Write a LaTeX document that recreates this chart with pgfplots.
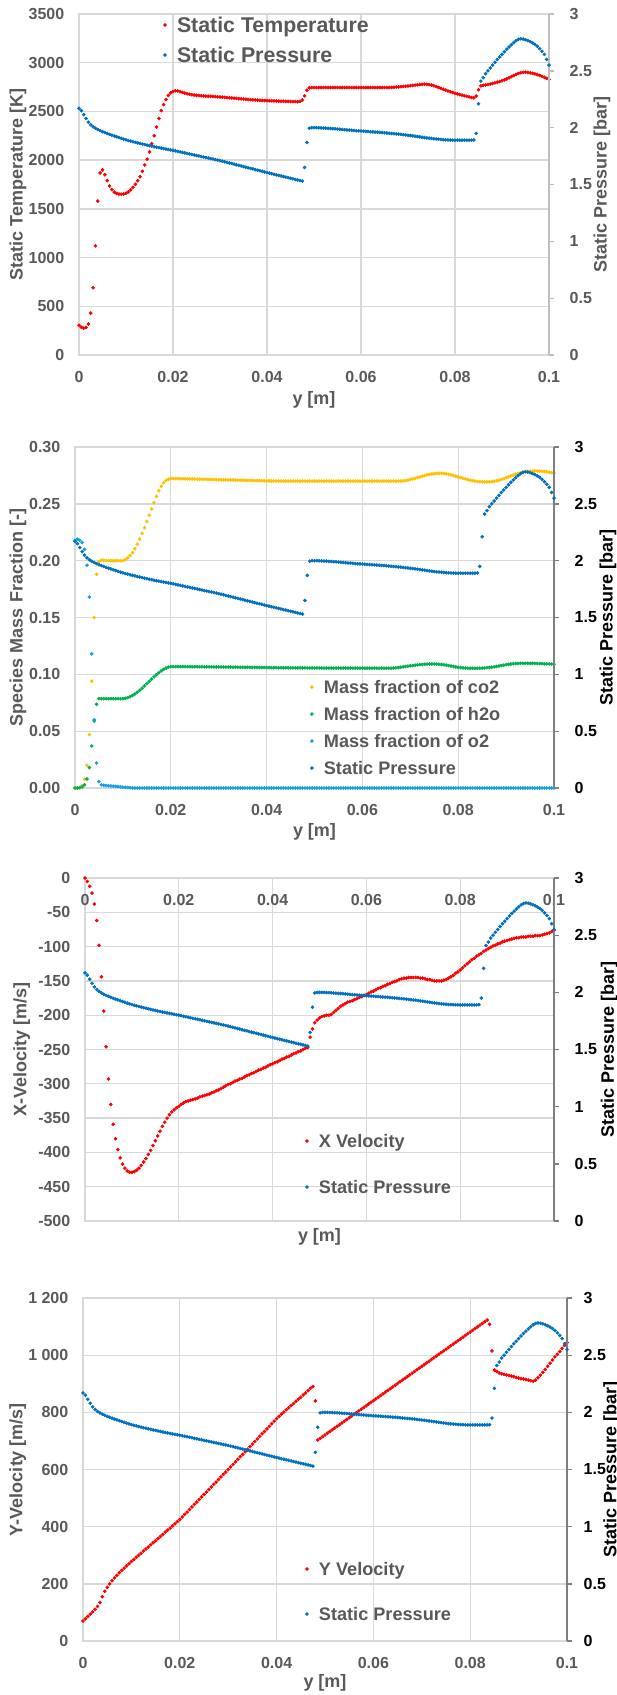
\documentclass[border=0pt]{standalone}
\usepackage{fontspec}
\setmainfont{Liberation Sans}
\usepackage{pgfplots}
\usepackage{pgfplotstable}
\pgfplotsset{compat=1.18}

\definecolor{txtgray}{HTML}{595959}
\definecolor{gridgray}{HTML}{D9D9D9}
\definecolor{axlight}{HTML}{BFBFBF}
\definecolor{axdark}{HTML}{7F7F7F}
\definecolor{tred}{HTML}{FF0000}
\definecolor{pblue}{HTML}{0070C0}
\definecolor{co2col}{HTML}{FFC000}
\definecolor{h2ocol}{HTML}{00B050}
\definecolor{o2col}{HTML}{14A0E1}

\newcommand{\tickfont}{\bfseries\fontsize{12}{14}\selectfont}
\newcommand{\titlefont}{\bfseries\fontsize{13.5}{16}\selectfont}
\newcommand{\legfont}{\bfseries\fontsize{13.6}{16}\selectfont}
\newcommand{\bigleg}{\bfseries\fontsize{16}{19}\selectfont}

% profiles along y: temperature [K], pressure [bar], mass fractions, velocities [m/s]
\pgfplotstableread{
y T P co2 h2o o2 u v
0.0000 305 2.170 0 0 0.218 0 70
0.0005 285 2.150 0 0 0.219 -5 78
0.0010 276 2.115 0.0005 0.0003 0.218 -12 86
0.0015 282 2.080 0.002 0.001 0.216 -22 94
0.0020 318 2.048 0.0076 0.0028 0.210 -38 102
0.0025 430 2.025 0.020 0.008 0.196 -62 111
0.0030 690 2.008 0.047 0.018 0.168 -98 121
0.0035 1120 1.995 0.094 0.037 0.118 -144 135
0.0040 1580 1.984 0.150 0.059 0.060 -194 155
0.0045 1868 1.974 0.188 0.0736 0.022 -246 174
0.0050 1900 1.965 0.199 0.0786 0.0056 -293 188
0.0055 1850 1.957 0.2005 0.0786 0.0028 -330 200
0.0060 1790 1.949 0.2003 0.0786 0.0024 -359 211
0.0065 1735 1.941 0.2001 0.0786 0.0022 -380 221
0.0070 1697 1.934 0.2000 0.0786 0.0020 -396 230
0.0075 1672 1.927 0.2000 0.0786 0.0018 -408 239
0.0080 1658 1.920 0.2000 0.0786 0.0016 -417 247
0.0085 1652 1.913 0.2000 0.0786 0.0014 -423 255
0.0090 1650 1.906 0.2000 0.0786 0.0012 -427 263
0.0095 1652 1.899 0.2000 0.0786 0.0010 -429 270
0.0100 1660 1.893 0.2000 0.0786 0.0008 -429 278
0.0105 1674 1.887 0.2008 0.0789 0.0006 -428 285
0.0110 1695 1.882 0.2025 0.0795 0.0004 -426 293
0.0115 1722 1.876 0.2045 0.0803 0.0002 -423 300
0.0120 1752 1.871 0.2070 0.0814 0.0001 -419 307
0.0125 1788 1.866 0.2105 0.0827 0 -414 315
0.0130 1830 1.861 0.2145 0.0842 0 -409 322
0.0135 1885 1.856 0.2190 0.0859 0 -403 329
0.0140 1950 1.851 0.2240 0.0878 0 -397 337
0.0145 2010 1.846 0.2290 0.0898 0 -390 344
0.0150 2085 1.842 0.2345 0.0918 0 -383 351
0.0155 2168 1.837 0.2400 0.0938 0 -376 359
0.0160 2250 1.833 0.2455 0.0958 0 -369 366
0.0165 2340 1.828 0.2510 0.0978 0 -362 373
0.0170 2428 1.824 0.2565 0.0997 0 -356 381
0.0175 2508 1.820 0.2615 0.1014 0 -350 388
0.0180 2570 1.816 0.2655 0.1030 0 -345 395
0.0185 2622 1.812 0.2685 0.1044 0 -341 403
0.0190 2664 1.808 0.2705 0.1055 0 -338 410
0.0195 2690 1.804 0.2717 0.1063 0 -335 418
0.0200 2705 1.800 0.2722 0.1067 0 -333 425
0.0205 2712 1.796 0.2723 0.1068 0 -330 434
0.0210 2710 1.791 0.2722 0.1068 0 -328 443
0.0215 2703 1.787 0.2722 0.1068 0 -326 451
0.0220 2695 1.782 0.2721 0.1068 0 -325 460
0.0225 2688 1.778 0.2721 0.1068 0 -324 469
0.0230 2681 1.773 0.2720 0.1068 0 -323 478
0.0235 2676 1.769 0.2720 0.1068 0 -322 486
0.0240 2672 1.764 0.2719 0.1067 0 -321 495
0.0245 2668 1.760 0.2719 0.1067 0 -319 504
0.0250 2665 1.755 0.2718 0.1067 0 -318 513
0.0255 2663 1.751 0.2718 0.1067 0 -317 521
0.0260 2661 1.746 0.2717 0.1067 0 -316 530
0.0265 2659 1.742 0.2717 0.1066 0 -315 539
0.0270 2657 1.737 0.2716 0.1066 0 -313 548
0.0275 2656 1.733 0.2716 0.1066 0 -312 556
0.0280 2655 1.728 0.2715 0.1066 0 -310 565
0.0285 2654 1.724 0.2714 0.1066 0 -309 574
0.0290 2652 1.719 0.2714 0.1065 0 -307 583
0.0295 2650 1.715 0.2713 0.1065 0 -305 591
0.0300 2648 1.710 0.2712 0.1065 0 -303 600
0.0305 2646 1.705 0.2712 0.1065 0 -301 609
0.0310 2644 1.700 0.2711 0.1064 0 -300 618
0.0315 2642 1.694 0.2711 0.1064 0 -298 627
0.0320 2640 1.689 0.2710 0.1064 0 -296 636
0.0325 2638 1.684 0.2710 0.1064 0 -295 645
0.0330 2636 1.679 0.2709 0.1063 0 -293 653
0.0335 2634 1.673 0.2709 0.1063 0 -292 662
0.0340 2631 1.668 0.2708 0.1063 0 -290 671
0.0345 2629 1.663 0.2708 0.1062 0 -288 680
0.0350 2627 1.658 0.2707 0.1062 0 -287 689
0.0355 2625 1.652 0.2707 0.1062 0 -285 698
0.0360 2623 1.647 0.2706 0.1062 0 -284 707
0.0365 2621 1.642 0.2706 0.1061 0 -282 716
0.0370 2619 1.637 0.2705 0.1061 0 -280 725
0.0375 2618 1.631 0.2705 0.1061 0 -279 733
0.0380 2616 1.626 0.2704 0.1061 0 -277 742
0.0385 2615 1.621 0.2704 0.1060 0 -276 751
0.0390 2613 1.616 0.2703 0.1060 0 -274 760
0.0395 2612 1.610 0.2703 0.1060 0 -272 769
0.0400 2611 1.605 0.2702 0.1060 0 -271 778
0.0405 2610 1.600 0.2702 0.1059 0 -269 786
0.0410 2609 1.595 0.2701 0.1059 0 -268 794
0.0415 2608 1.590 0.2701 0.1059 0 -266 801
0.0420 2607 1.585 0.2701 0.1059 0 -264 809
0.0425 2606 1.580 0.2700 0.1058 0 -263 816
0.0430 2605 1.575 0.2700 0.1058 0 -261 824
0.0435 2604 1.570 0.2700 0.1058 0 -260 831
0.0440 2603 1.565 0.2700 0.1058 0 -258 839
0.0445 2603 1.560 0.2700 0.1058 0 -256 846
0.0450 2602 1.555 0.2700 0.1058 0 -255 853
0.0455 2601 1.550 0.2700 0.1057 0 -253 861
0.0460 2601 1.545 0.2700 0.1057 0 -252 868
0.0465 2600 1.540 0.2700 0.1057 0 -250 876
0.0470 2602 1.535 0.2700 0.1057 0 -248 884
0.0475 2618 1.530 0.2700 0.1057 0 -247 890
0.0480 2660 1.650 0.2700 0.1057 0 -232 840
0.0485 2718 1.870 0.2700 0.1056 0 -220 703
0.0490 2742 1.995 0.2700 0.1056 0 -211 709
0.0495 2745 2.000 0.2700 0.1056 0 -207 715
0.0500 2745 2.000 0.2700 0.1056 0 -204 721
0.0505 2745 2.000 0.2700 0.1056 0 -202 727
0.0510 2745 1.999 0.2700 0.1056 0 -201 733
0.0515 2745 1.998 0.2700 0.1056 0 -200 739
0.0520 2745 1.997 0.2700 0.1055 0 -200 745
0.0525 2745 1.996 0.2700 0.1055 0 -199 751
0.0530 2745 1.994 0.2700 0.1055 0 -196 757
0.0535 2745 1.993 0.2700 0.1055 0 -193 763
0.0540 2745 1.991 0.2700 0.1055 0 -190 769
0.0545 2745 1.990 0.2700 0.1055 0 -187 775
0.0550 2745 1.988 0.2700 0.1055 0 -185 781
0.0555 2745 1.986 0.2700 0.1055 0 -183 787
0.0560 2745 1.984 0.2700 0.1055 0 -181 793
0.0565 2745 1.982 0.2700 0.1055 0 -180 799
0.0570 2745 1.980 0.2700 0.1055 0 -179 805
0.0575 2745 1.979 0.2700 0.1055 0 -177 811
0.0580 2745 1.977 0.2700 0.1055 0 -176 817
0.0585 2745 1.975 0.2700 0.1055 0 -174 823
0.0590 2745 1.973 0.2700 0.1054 0 -173 829
0.0595 2745 1.972 0.2700 0.1054 0 -171 835
0.0600 2745 1.970 0.2700 0.1054 0 -170 841
0.0605 2745 1.969 0.2700 0.1054 0 -168 847
0.0610 2745 1.967 0.2700 0.1054 0 -166 853
0.0615 2745 1.966 0.2700 0.1054 0 -165 859
0.0620 2745 1.964 0.2700 0.1054 0 -163 865
0.0625 2745 1.963 0.2700 0.1054 0 -161 871
0.0630 2745 1.961 0.2700 0.1054 0 -160 877
0.0635 2745 1.960 0.2700 0.1054 0 -158 883
0.0640 2745 1.958 0.2700 0.1054 0 -157 889
0.0645 2745 1.957 0.2700 0.1054 0 -155 895
0.0650 2745 1.955 0.2700 0.1054 0 -154 901
0.0655 2745 1.953 0.2700 0.1054 0 -152 907
0.0660 2745 1.951 0.2700 0.1054 0 -151 913
0.0665 2746 1.949 0.2700 0.1055 0 -150 919
0.0670 2748 1.947 0.2700 0.1057 0 -148 925
0.0675 2750 1.945 0.2700 0.1060 0 -147 931
0.0680 2752 1.943 0.2700 0.1063 0 -146 937
0.0685 2754 1.941 0.2702 0.1066 0 -146 943
0.0690 2756 1.938 0.2705 0.1069 0 -145 949
0.0695 2758 1.936 0.2709 0.1072 0 -145 955
0.0700 2761 1.933 0.2714 0.1075 0 -145 961
0.0705 2764 1.931 0.2719 0.1078 0 -145 967
0.0710 2767 1.928 0.2725 0.1081 0 -145 973
0.0715 2770 1.925 0.2731 0.1083 0 -146 979
0.0720 2773 1.922 0.2737 0.1085 0 -146 985
0.0725 2776 1.919 0.2743 0.1087 0 -147 991
0.0730 2778 1.916 0.2749 0.1089 0 -148 997
0.0735 2779 1.913 0.2754 0.1090 0 -148 1003
0.0740 2778 1.910 0.2759 0.1091 0 -149 1009
0.0745 2775 1.907 0.2763 0.1091 0 -150 1015
0.0750 2770 1.905 0.2766 0.1091 0 -150 1021
0.0755 2763 1.902 0.2768 0.1090 0 -150 1027
0.0760 2755 1.900 0.2769 0.1089 0 -150 1033
0.0765 2746 1.898 0.2769 0.1087 0 -149 1039
0.0770 2737 1.896 0.2767 0.1084 0 -148 1045
0.0775 2728 1.894 0.2764 0.1081 0 -146 1051
0.0780 2719 1.893 0.2760 0.1077 0 -144 1057
0.0785 2710 1.892 0.2755 0.1073 0 -142 1063
0.0790 2702 1.891 0.2749 0.1069 0 -139 1069
0.0795 2694 1.890 0.2743 0.1065 0 -137 1075
0.0800 2687 1.890 0.2737 0.1062 0 -134 1081
0.0805 2680 1.890 0.2731 0.1059 0 -131 1087
0.0810 2673 1.890 0.2725 0.1057 0 -128 1093
0.0815 2667 1.890 0.2719 0.1055 0 -125 1099
0.0820 2661 1.890 0.2713 0.1054 0 -122 1105
0.0825 2655 1.890 0.2708 0.1053 0 -119 1111
0.0830 2649 1.890 0.2704 0.1053 0 -117 1117
0.0835 2643 1.890 0.2700 0.1053 0 -114 1123
0.0840 2640 1.892 0.2697 0.1053 0 -112 1108
0.0845 2658 1.950 0.2695 0.1054 0 -110 1015
0.0850 2722 2.210 0.2694 0.1055 0 -107 948
0.0855 2762 2.410 0.2693 0.1056 0 -105 943
0.0860 2768 2.440 0.2693 0.1058 0 -103 938
0.0865 2772 2.475 0.2694 0.1060 0 -101 935
0.0870 2776 2.500 0.2696 0.1063 0 -99 933
0.0875 2781 2.525 0.2699 0.1066 0 -98 931
0.0880 2787 2.550 0.2703 0.1069 0 -96 929
0.0885 2793 2.575 0.2708 0.1073 0 -95 927
0.0890 2800 2.600 0.2714 0.1077 0 -93 925
0.0895 2807 2.622 0.2721 0.1081 0 -92 922
0.0900 2815 2.645 0.2729 0.1085 0 -91 920
0.0905 2824 2.668 0.2737 0.1088 0 -90 918
0.0910 2834 2.690 0.2745 0.1091 0 -89 917
0.0915 2845 2.710 0.2753 0.1093 0 -88 915
0.0920 2857 2.730 0.2761 0.1095 0 -87 913
0.0925 2869 2.748 0.2768 0.1096 0 -87 911
0.0930 2880 2.765 0.2774 0.1097 0 -86 909
0.0935 2890 2.777 0.2779 0.1097 0 -86 913
0.0940 2897 2.782 0.2783 0.1097 0 -86 921
0.0945 2901 2.780 0.2786 0.1097 0 -85 930
0.0950 2902 2.774 0.2788 0.1097 0 -85 940
0.0955 2900 2.766 0.2789 0.1097 0 -85 950
0.0960 2896 2.757 0.2789 0.1097 0 -84 961
0.0965 2891 2.746 0.2789 0.1096 0 -84 972
0.0970 2885 2.733 0.2788 0.1095 0 -84 983
0.0975 2878 2.716 0.2787 0.1094 0 -83 994
0.0980 2870 2.695 0.2785 0.1093 0 -82 1003
0.0985 2861 2.672 0.2782 0.1092 0 -81 1013
0.0990 2851 2.645 0.2778 0.1091 0 -80 1024
0.0995 2840 2.600 0.2774 0.1090 0 -78 1034
0.1000 2828 2.550 0.2770 0.1089 0 -76 1044
}\profiles

\pgfplotsset{
  dots/.style={only marks, mark=*, mark size=1.15pt},
  panel/.style={
    scale only axis, anchor=south west,
    xmin=0, xmax=0.1,
    xtick={0,0.02,0.04,0.06,0.08,0.1},
    xticklabels={0,0.02,0.04,0.06,0.08,0.1},
    grid=major, grid style={gridgray, line width=1pt},
    axis line style={gridgray, line width=1pt},
    major tick length=0pt,
    tick label style={font=\tickfont, text=txtgray},
    yticklabel style={anchor=east, xshift=-7.5pt},
    xticklabel style={anchor=north, yshift=-8.5pt},
    label style={font=\titlefont, text=txtgray},
    ylabel style={anchor=center},
    xlabel style={anchor=center},
    clip=false,
  },
  twin/.style={
    scale only axis, anchor=south west,
    xmin=0, xmax=0.1,
    axis x line=none, axis y line*=right,
    ymin=0, ymax=3,
    ytick={0,0.5,1,1.5,2,2.5,3},
    yticklabels={0,0.5,1,1.5,2,2.5,3},
    tick align=outside, major tick length=4pt,
    tick label style={font=\tickfont},
    yticklabel style={anchor=west, xshift=8pt},
    label style={font=\titlefont},
    ylabel style={anchor=center},
    clip=false,
    legend cell align=left,
    legend style={draw=none, fill=none, inner sep=0pt, outer sep=0pt,
      font=\legfont, text=txtgray, column sep=5pt, anchor=north west,
      nodes={font=\legfont, text=txtgray, inner sep=0pt, text height=9.8pt, text depth=0pt}},
    legend image code/.code={\path[draw=none, fill=none] (0pt,0pt) -- (6pt,0pt); \fill (2pt,0pt) circle (1.15pt);},
  },
}

\begin{document}
\begin{tikzpicture}
\path[use as bounding box] (0,0) rectangle (462.75pt,-1271.25pt);

% ---- temperature and pressure ----
\begin{axis}[panel, at={(59.25pt,-266.25pt)}, width=352.5pt, height=255.75pt,
  ymin=0, ymax=3500, ytick={0,500,1000,1500,2000,2500,3000,3500},
  yticklabels={0,500,1000,1500,2000,2500,3000,3500},
  ylabel={Static Temperature [K]}, ylabel style={at={(axis description cs:-0.1298,0.5)}},
  xlabel={y [m]}, xlabel style={at={(axis description cs:0.5,-0.132)}}]
\addplot[dots, color=tred] table[x=y, y=T] {\profiles};
\end{axis}
\begin{axis}[twin, at={(59.25pt,-266.25pt)}, width=352.5pt, height=255.75pt,
  axis line style={axlight, line width=1pt}, ytick style={axlight, line width=1pt},
  yticklabel style={text=txtgray}, ylabel style={text=txtgray, at={(axis description cs:1.1128,0.5)}},
  ylabel={Static Pressure [bar]},
  legend style={at={(axis description cs:0.1773,0.9906)}, row sep=10.8pt,
    font=\bigleg, nodes={font=\bigleg, text height=11.7pt}}]
\addlegendimage{dots, color=tred}
\addlegendentry{Static Temperature}
\addplot[dots, color=pblue] table[x=y, y=P] {\profiles};
\addlegendentry{Static Pressure}
\end{axis}

% ---- species mass fractions ----
\begin{axis}[panel, at={(56.25pt,-591pt)}, width=359.25pt, height=255.75pt,
  ymin=0, ymax=0.30, ytick={0,0.05,0.1,0.15,0.2,0.25,0.3},
  yticklabels={0.00,0.05,0.10,0.15,0.20,0.25,0.30},
  ylabel={Species Mass Fraction [-]}, ylabel style={at={(axis description cs:-0.119,0.5)}},
  xlabel={y [m]}, xlabel style={at={(axis description cs:0.5,-0.129)}}]
\addplot[dots, color=co2col] table[x=y, y=co2] {\profiles};
\addplot[dots, color=h2ocol] table[x=y, y=h2o] {\profiles};
\addplot[dots, color=o2col] table[x=y, y=o2] {\profiles};
\end{axis}
\begin{axis}[twin, at={(56.25pt,-591pt)}, width=359.25pt, height=255.75pt,
  axis line style={axdark, line width=1pt}, ytick style={axdark, line width=1pt},
  yticklabel style={text=black}, ylabel style={text=black, at={(axis description cs:1.1127,0.5)}},
  ylabel={Static Pressure [bar]},
  legend style={at={(axis description cs:0.489,0.3152)}, row sep=10.45pt}]
\addlegendimage{dots, color=co2col}
\addlegendentry{Mass fraction of co2}
\addlegendimage{dots, color=h2ocol}
\addlegendentry{Mass fraction of h2o}
\addlegendimage{dots, color=o2col}
\addlegendentry{Mass fraction of o2}
\addplot[dots, color=pblue] table[x=y, y=P] {\profiles};
\addlegendentry{Static Pressure}
\end{axis}

% ---- x velocity ----
\begin{axis}[panel, at={(63.75pt,-915.75pt)}, width=351.75pt, height=257.25pt,
  ymin=-500, ymax=0,
  ytick={-500,-450,-400,-350,-300,-250,-200,-150,-100,-50,0},
  yticklabels={-500,-450,-400,-350,-300,-250,-200,-150,-100,-50,0},
  xticklabel pos=upper,
  ylabel={X-Velocity [m/s]}, ylabel style={at={(axis description cs:-0.135,0.5)}},
  xlabel={y [m]}, xlabel style={at={(axis description cs:0.5,-0.047)}}]
\addplot[dots, color=tred] table[x=y, y=u] {\profiles};
\end{axis}
\begin{axis}[twin, at={(63.75pt,-915.75pt)}, width=351.75pt, height=257.25pt,
  axis line style={axdark, line width=1pt}, ytick style={axdark, line width=1pt},
  yticklabel style={text=black}, ylabel style={text=black, at={(axis description cs:1.118,0.5)}},
  ylabel={Static Pressure [bar]},
  legend style={at={(axis description cs:0.4676,0.2522)}, row sep=24.7pt}]
\addlegendimage{dots, color=tred}
\addlegendentry{X Velocity}
\addplot[dots, color=pblue] table[x=y, y=P] {\profiles};
\addlegendentry{Static Pressure}
\end{axis}

% ---- y velocity ----
\begin{axis}[panel, at={(62.25pt,-1230.75pt)}, width=363pt, height=257.25pt,
  ymin=0, ymax=1200, ytick={0,200,400,600,800,1000,1200},
  yticklabels={0,200,400,600,800,1 000,1 200},
  ylabel={Y-Velocity [m/s]}, ylabel style={at={(axis description cs:-0.135,0.5)}},
  xlabel={y [m]}, xlabel style={at={(axis description cs:0.5,-0.122)}}]
\addplot[dots, color=tred] table[x=y, y=v] {\profiles};
\end{axis}
\begin{axis}[twin, at={(62.25pt,-1230.75pt)}, width=363pt, height=257.25pt,
  axis line style={axdark, line width=1pt}, ytick style={axdark, line width=1pt},
  yticklabel style={text=black, xshift=-3pt}, ylabel style={text=black, at={(axis description cs:1.0925,0.5)}},
  ylabel={Static Pressure [bar]},
  legend style={at={(axis description cs:0.4572,0.2289)}, row sep=23.95pt}]
\addlegendimage{dots, color=tred}
\addlegendentry{Y Velocity}
\addplot[dots, color=pblue] table[x=y, y=P] {\profiles};
\addlegendentry{Static Pressure}
\end{axis}
\end{tikzpicture}
\end{document}
